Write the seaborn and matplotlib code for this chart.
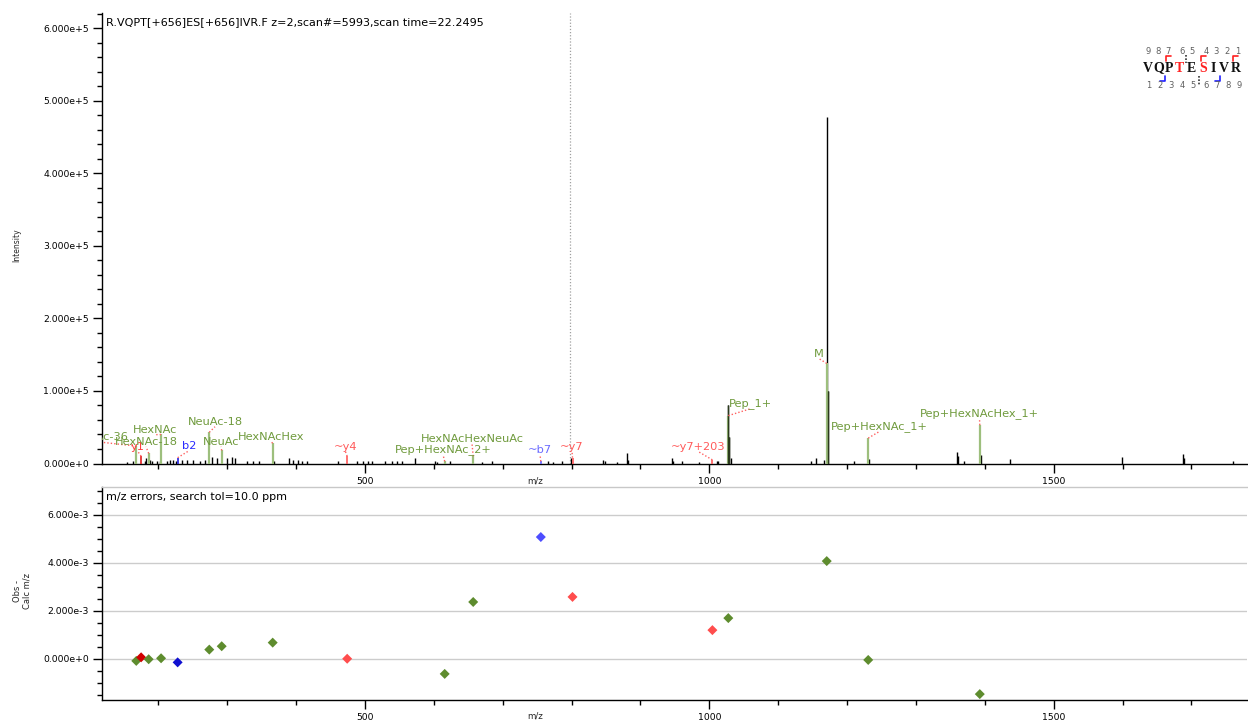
import numpy as np
import pandas as pd
import matplotlib
matplotlib.use("Agg")
import matplotlib.pyplot as plt
from matplotlib.lines import Line2D
from matplotlib.ticker import MultipleLocator, FuncFormatter
import seaborn as sns

# ---------------- data ----------------
title_text = "R.VQPT[+656]ES[+656]IVR.F z=2,scan#=5993,scan time=22.2495"
error_title = "m/z errors, search tol=10.0 ppm"
peptide = "VQPTESIVR"
modified_residues = [3, 5]
precursor_line_mz = 798.0

# unannotated peaks (m/z, intensity)
peak_mz = [154.2, 163.8, 180.7, 182.2, 188.0, 190.5, 197.7, 202.5, 212.3, 217.0,
           221.4, 225.3, 234.0, 242.2, 250.0, 260.6, 267.9, 277.5, 285.7, 300.2,
           306.6, 311.4, 328.4, 338.0, 346.3, 367.5, 389.8, 396.1, 402.4, 409.1,
           415.5, 461.4, 488.1, 497.7, 504.9, 510.7, 529.2, 538.9, 547.0, 553.4,
           572.7, 601.8, 605.1, 623.6, 669.6, 684.1, 765.4, 773.5, 785.7, 799.2,
           846.1, 848.6, 865.6, 880.1, 882.4, 945.4, 947.7, 959.9, 985.1, 1010.7,
           1013.1, 1027.7, 1029.0, 1031.1, 1147.7, 1154.9, 1166.9, 1170.6, 1172.0, 1210.5,
           1232.2, 1359.2, 1361.6, 1369.9, 1394.2, 1436.6, 1598.7, 1687.3, 1689.2, 1760.7]
peak_int = [1.4e3, 2.8e3, 4.0e3, 8.0e3, 5.5e3, 2.8e3, 4.0e3, 2.8e3, 2.8e3, 5.5e3,
            5.5e3, 2.8e3, 5.5e3, 5.5e3, 5.5e3, 4.0e3, 5.5e3, 9.0e3, 8.0e3, 8.0e3,
            9.0e3, 8.0e3, 2.8e3, 2.8e3, 2.8e3, 2.8e3, 7.0e3, 5.5e3, 5.5e3, 2.8e3,
            2.8e3, 2.8e3, 4.0e3, 2.8e3, 2.8e3, 2.8e3, 2.8e3, 2.8e3, 2.8e3, 2.8e3,
            8.0e3, 2.8e3, 1.4e3, 2.8e3, 1.4e3, 2.8e3, 2.8e3, 1.4e3, 2.8e3, 7.0e3,
            5.5e3, 2.8e3, 1.4e3, 1.38e4, 5.5e3, 7.0e3, 4.0e3, 4.0e3, 1.4e3, 4.0e3,
            2.8e3, 8.1e4, 3.7e4, 7.0e3, 2.8e3, 7.0e3, 4.5e3, 4.78e5, 1.0e5, 2.8e3,
            6.5e3, 1.6e4, 1.0e4, 2.8e3, 1.15e4, 6.5e3, 8.3e3, 1.35e4, 7.0e3, 4.0e3]

# annotated fragment ions
ann_labels = ["HexNAc-36", "y1", "HexNAc-18", "HexNAc", "b2", "NeuAc-18", "NeuAc",
              "HexNAcHex", "~y4", "Pep+HexNAc_2+", "HexNAcHexNeuAc", "~b7", "~y7",
              "~y7+203", "Pep_1+", "M", "Pep+HexNAc_1+", "Pep+HexNAcHex_1+"]
ann_mz = [168.07, 175.12, 186.08, 204.09, 228.13, 274.09, 292.10, 366.14, 474.27,
          615.85, 657.23, 755.40, 801.40, 1004.50, 1027.60, 1170.50, 1230.70, 1392.70]
ann_int = [2.4e4, 1.0e4, 1.4e4, 4.0e4, 8.0e3, 4.3e4, 1.8e4, 2.8e4, 1.0e4,
           3.0e3, 1.0e4, 3.0e3, 8.0e3, 5.0e3, 6.6e4, 1.38e5, 3.5e4, 5.3e4]
ann_kind = ["glycan", "y", "glycan", "glycan", "b", "glycan", "glycan", "glycan", "~y",
            "glycan", "glycan", "~b", "~y", "~y", "glycan", "glycan", "glycan", "glycan"]
ann_err = [-0.08e-3, 0.07e-3, -0.01e-3, 0.03e-3, -0.14e-3, 0.39e-3, 0.53e-3, 0.68e-3, 0.01e-3,
           -0.62e-3, 2.37e-3, 5.07e-3, 2.58e-3, 1.20e-3, 1.70e-3, 4.07e-3, -0.04e-3, -1.46e-3]

# label anchor positions (layout)
label_mz = [111.1, 170.6, 182.2, 195.3, 244.6, 282.4, 291.1, 363.7, 471.8,
            613.4, 655.5, 754.2, 800.7, 984.3, 1059.8, 1159.3, 1246.4, 1392.3]
label_int = [3.65e4, 2.28e4, 2.96e4, 4.62e4, 2.41e4, 5.72e4, 2.96e4, 3.65e4, 2.28e4,
             1.86e4, 3.38e4, 1.86e4, 2.28e4, 2.28e4, 8.2e4, 1.51e5, 5.03e4, 6.83e4]

# ---------------- style ----------------
kind_line = {"glycan": "#9dbf7d", "y": "#e02020", "~y": "#ff5a5a", "b": "#2020e0", "~b": "#6060ff"}
kind_text = {"glycan": "#6f9a3c", "y": "#ff4040", "~y": "#ff5a5a", "b": "#2a2aff", "~b": "#6a6aff"}
kind_point = {"glycan": "#5e8c2e", "y": "#d00000", "~y": "#ff4d4d", "b": "#1010d0", "~b": "#4d4dff"}

sns.set_theme(style="white")
plt.rcParams["font.family"] = ["DejaVu Sans"]
plt.rcParams["axes.linewidth"] = 1.0

W, H = 1248, 724
fig = plt.figure(figsize=(W / 100, H / 100), dpi=100)
fig.patch.set_facecolor("white")

def fx(px):
    return px / W

def fy(py):
    return 1 - py / H

ax_left, ax_right = 102, 1247
ax1 = fig.add_axes([fx(ax_left), fy(463.5), (ax_right - ax_left) / W, (463.5 - 12.7) / H])
ax2 = fig.add_axes([fx(ax_left), fy(700), (ax_right - ax_left) / W, (700 - 487) / H])

xlim = ((ax_left - 20.5) / 0.6888, (ax_right - 20.5) / 0.6888)


def sci_fmt(v, pos):
    if abs(v) < 1e-12:
        return "0.000e+0"
    m, e = f"{v:.3e}".split("e")
    e = int(e)
    return f"{m}e{'+' if e >= 0 else '-'}{abs(e)}"


def style_axes(ax):
    for s in ["left", "bottom"]:
        ax.spines[s].set_color("black")
        ax.spines[s].set_linewidth(1.0)
    ax.spines["right"].set_visible(False)
    ax.set_facecolor("white")
    ax.set_xlim(*xlim)
    ax.xaxis.set_major_locator(MultipleLocator(500))
    ax.xaxis.set_minor_locator(MultipleLocator(100))
    ax.xaxis.set_major_formatter(FuncFormatter(lambda v, p: f"{int(v)}"))
    ax.yaxis.set_major_formatter(FuncFormatter(sci_fmt))
    ax.tick_params(axis="both", which="major", direction="out", length=6.5, width=1,
                   color="black", labelsize=6.7, labelcolor="black", pad=3,
                   bottom=True, left=True)
    ax.tick_params(axis="both", which="minor", direction="out", length=3.6, width=1,
                   color="black", bottom=True, left=True)
    ax.grid(False)


# ---------------- spectrum ----------------
style_axes(ax1)
ax1.spines["top"].set_visible(False)
ax1.set_ylim(0, 6.215e5)
ax1.yaxis.set_major_locator(MultipleLocator(1e5))
ax1.yaxis.set_minor_locator(MultipleLocator(2e4))

ax1.axvline(precursor_line_mz, color="#a0a0a0", lw=0.9, ls=(0, (1, 1.5)), zorder=1)

ax1.vlines(peak_mz, 0, peak_int, colors="black", lw=1.0, zorder=2)
ann_df = pd.DataFrame({"label": ann_labels, "mz": ann_mz, "int": ann_int, "kind": ann_kind,
                       "err": ann_err, "lmz": label_mz, "lint": label_int})
for _, r in ann_df.iterrows():
    lw = 1.6 if r["kind"] == "glycan" else 1.2
    ax1.vlines(r["mz"], 0, r["int"], colors=kind_line[r["kind"]], lw=lw, zorder=3)
# isotope shoulders drawn over the annotated bars
iso = [(m, i) for m, i in zip(peak_mz, peak_int) if i > 3e4 and i < 2e5]
ax1.vlines([m for m, _ in iso], 0, [i for _, i in iso], colors="#2b3a1c", lw=1.0, zorder=4)

text_order = ["y", "~y", "b", "~b", "glycan"]
for _, r in ann_df.iterrows():
    ax1.plot([r["mz"], r["lmz"]], [r["int"], r["lint"] - 6.5e3], color="#ff6060", lw=1.0,
             ls=(0, (1, 1.5)), zorder=5, clip_on=True)
for _, r in ann_df.iterrows():
    ax1.text(r["lmz"], r["lint"], r["label"], color=kind_text[r["kind"]], fontsize=8.2,
             ha="center", va="center", zorder=6 + text_order.index(r["kind"]), clip_on=True)

ax1.text((106 - ax_left) / (ax_right - ax_left), (463.5 - 22) / (463.5 - 12.7), title_text,
         transform=ax1.transAxes, fontsize=8, ha="left", va="center", color="black")
ax1.set_xlabel("m/z", fontsize=6.2)
ax1.xaxis.set_label_coords((535 - ax_left) / (ax_right - ax_left), -0.028)
ax1.set_ylabel("")
fig.text(fx(17), fy(245), "Intensity", rotation=90, fontsize=5.5, ha="center", va="center")

# ---------------- error plot ----------------
style_axes(ax2)
ax2.spines["top"].set_visible(True)
ax2.spines["top"].set_color("#c8c8c8")
ax2.spines["top"].set_linewidth(1.0)
ax2.set_ylim(-1.705e-3, 7.15e-3)
ax2.yaxis.set_major_locator(MultipleLocator(2e-3))
ax2.yaxis.set_minor_locator(MultipleLocator(5e-4))
for g in [0, 2e-3, 4e-3, 6e-3]:
    ax2.axhline(g, color="#cccccc", lw=1.0, zorder=0)

sns.scatterplot(data=ann_df, x="mz", y="err", hue="kind", palette=kind_point, marker="D",
                s=26, edgecolor="none", legend=False, ax=ax2, zorder=3)
ax2.set_xlim(*xlim)
ax2.text((106 - ax_left) / (ax_right - ax_left), (700 - 497) / (700 - 487), error_title,
         transform=ax2.transAxes, fontsize=8, ha="left", va="center", color="black")
ax2.set_xlabel("m/z", fontsize=6.2)
ax2.xaxis.set_label_coords((535 - ax_left) / (ax_right - ax_left), -0.055)
ax2.set_ylabel("")
fig.text(fx(22), fy(591), "Obs -\nCalc m/z", rotation=90, fontsize=6, ha="center",
         va="center", linespacing=1.1, multialignment="center")

# ---------------- peptide sequence diagram ----------------
letter_x = [1147.5, 1158.5, 1169.0, 1179.5, 1191.5, 1203.5, 1213.5, 1223.5, 1235.5]
letter_y, num_top_y, num_bot_y = 68, 51, 85
top_num_x = [1148, 1158, 1168, 1182, 1192, 1206, 1216, 1227, 1238]
bot_num_x = [1149, 1160, 1171, 1182, 1193, 1206, 1217, 1228, 1239]
n = len(peptide)
for i, ch in enumerate(peptide):
    col = "#ff2020" if i in modified_residues else "#111111"
    fig.text(fx(letter_x[i]), fy(letter_y), ch, fontsize=10, fontweight="bold",
             family="Liberation Serif", color=col, ha="center", va="center")
    fig.text(fx(top_num_x[i]), fy(num_top_y), str(n - i), fontsize=6, color="#606060",
             ha="center", va="center")
    fig.text(fx(bot_num_x[i]), fy(num_bot_y), str(i + 1), fontsize=6, color="#606060",
             ha="center", va="center")

y_marks = [2, 5, 8]
b_marks = [1, 6]
for i in y_marks:
    x0 = letter_x[i] - 3
    fig.add_artist(Line2D([fx(x0), fx(x0), fx(x0 + 5)], [fy(61), fy(56), fy(56)],
                          color="#ff2020", lw=1.2))
for i in b_marks:
    x1 = (letter_x[i] + letter_x[i + 1]) / 2 + 1
    fig.add_artist(Line2D([fx(x1 - 5), fx(x1), fx(x1)], [fy(81), fy(81), fy(76)],
                          color="#2020ff", lw=1.2))
fig.add_artist(Line2D([fx(1186), fx(1186)], [fy(55), fy(63)], color="#333333", lw=1.2,
                      ls=(0, (1, 1))))
fig.add_artist(Line2D([fx(1199), fx(1199)], [fy(76), fy(86)], color="#333333", lw=1.2,
                      ls=(0, (1, 1))))

fig.savefig("out.png", dpi=100, facecolor="white")
